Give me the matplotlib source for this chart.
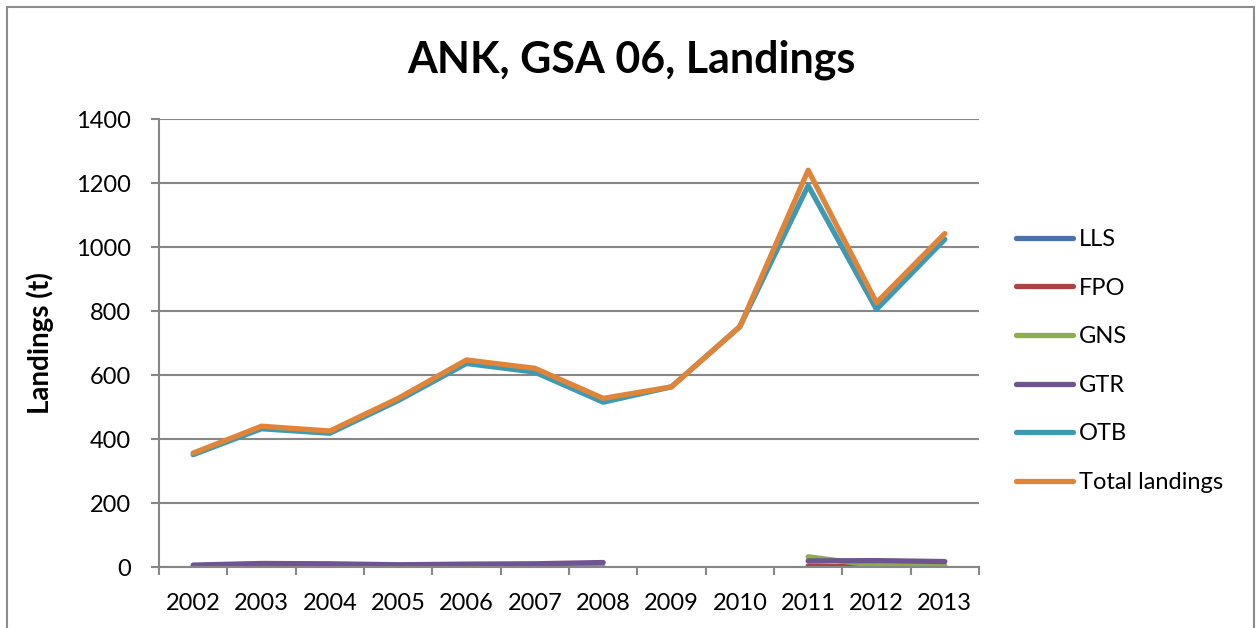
#!/usr/bin/env python3
# -*- coding: utf-8 -*-

import numpy as np
import matplotlib
matplotlib.use("Agg")
import matplotlib.pyplot as plt
from matplotlib.patches import Rectangle

plt.rcParams['font.family'] = ['Lato', 'DejaVu Sans']

# landings by gear (t), NaN where there is no record
years = ["2002", "2003", "2004", "2005", "2006", "2007",
         "2008", "2009", "2010", "2011", "2012", "2013"]
nan = np.nan
lls = [nan, nan, nan, nan, nan, nan, nan, nan, nan, nan, nan, nan]
fpo = [nan, nan, nan, nan, nan, nan, nan, nan, nan, 3, 0, 0]
gns = [nan, nan, nan, nan, nan, 0, 0, nan, nan, 32, 4, 4]
gtr = [6, 11, 10, 7, 9, 10, 14, nan, nan, 19, 20, 17]
otb = [351, 432, 418, 520, 636, 609, 515, 563, 751, 1192, 805, 1024]
total = [356, 440, 425, 527, 647, 621, 527, 563, 751, 1240, 826, 1042]

series = [("LLS", lls, "#4A72A8"),
          ("FPO", fpo, "#AA4441"),
          ("GNS", gns, "#8DAD4E"),
          ("GTR", gtr, "#6E5490"),
          ("OTB", otb, "#3E99B2"),
          ("Total landings", total, "#E0843A")]

grey = "#878787"
fs = 17

fig = plt.figure(figsize=(12.57, 6.28), dpi=100)
ax = fig.add_axes([159 / 1257, 61 / 628, 820 / 1257, 448 / 628])

x = np.arange(len(years))
for name, vals, col in series:
    ax.plot(x, vals, color=col, lw=3.8, label=name,
            solid_capstyle="round", solid_joinstyle="round")

ax.set_xlim(-0.5, len(years) - 0.5)
ax.set_ylim(0, 1400)
ax.set_yticks(np.arange(0, 1401, 200))
ax.set_xticks(x)
ax.set_xticklabels(years)
ax.set_xticks(np.arange(-0.5, len(years)), minor=True)

ax.tick_params(axis="x", which="major", length=0, pad=19, labelsize=fs)
ax.tick_params(axis="x", which="minor", length=6, width=1.5, color=grey)
ax.tick_params(axis="y", length=6, width=1.5, color=grey, pad=14, labelsize=fs)

ax.grid(axis="y", color=grey, lw=1.5)
ax.set_axisbelow(True)
for s in ["top", "right"]:
    ax.spines[s].set_visible(False)
for s in ["left", "bottom"]:
    ax.spines[s].set_color(grey)
    ax.spines[s].set_linewidth(1.5)

ax.set_ylabel("Landings (t)", fontsize=20, fontweight="bold", labelpad=16)
fig.text(0.502, 0.905, "ANK, GSA 06, Landings", ha="center", va="center",
         fontsize=31, fontweight="bold")

ax.legend(loc="center left", bbox_to_anchor=(1016 / 1257, 1 - 361 / 628),
          bbox_transform=fig.transFigure, frameon=False, fontsize=fs,
          handlelength=2.4, handletextpad=0.25, labelspacing=1.17,
          borderaxespad=0, borderpad=0)

# outer chart border
fig.patches.append(Rectangle((7 / 1257, -0.05), 1247 / 1257, 1.05 - 7 / 628,
                             transform=fig.transFigure, fill=False,
                             edgecolor="#8c8c8c", lw=1.5))

fig.savefig("out.png", dpi=100)
